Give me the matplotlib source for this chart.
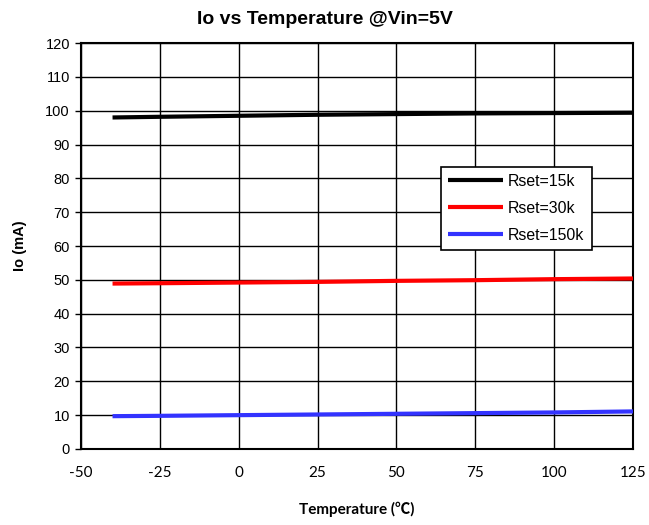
import matplotlib
matplotlib.use("Agg")
import matplotlib.pyplot as plt

temps = [-40, -25, 0, 25, 50, 75, 100, 125]
io_15k = [98.0, 98.2, 98.5, 98.8, 99.0, 99.2, 99.3, 99.4]
io_30k = [48.9, 49.0, 49.2, 49.4, 49.7, 49.9, 50.2, 50.4]
io_150k = [9.7, 9.8, 10.0, 10.2, 10.4, 10.6, 10.8, 11.1]
labels = ["Rset=15k", "Rset=30k", "Rset=150k"]
colors = ["#000000", "#ff0000", "#3333ff"]
xticks = [-50, -25, 0, 25, 50, 75, 100, 125]
xticklabels = ["-50", "-25", "0", "25", "50", "75", "100", "125"]
yticks = list(range(0, 121, 10))

plt.rcParams["axes.unicode_minus"] = False
fig = plt.figure(figsize=(6.49, 5.25), dpi=100)
ax = fig.add_axes([0.1248, 0.1448, 0.8505, 0.7732])

for y, lab, c in zip([io_15k, io_30k, io_150k], labels, colors):
    ax.plot(temps, y, color=c, lw=3, label=lab, solid_capstyle="butt", zorder=3)

ax.set_xlim(-50, 125)
ax.set_ylim(0, 120)
ax.set_xticks(xticks)
ax.set_xticklabels(xticklabels)
ax.set_yticks(yticks)
ax.grid(True, color="black", lw=1)
for s in ax.spines.values():
    s.set_linewidth(1.5)
    s.set_color("black")
ax.tick_params(axis="x", length=0, pad=12)
ax.tick_params(axis="y", length=4, width=1, direction="out", pad=4)
for t in ax.get_xticklabels():
    t.set_fontfamily("Lato")
    t.set_fontsize(11)
for t in ax.get_yticklabels():
    t.set_fontfamily("Liberation Sans")
    t.set_fontsize(10.5)

ax.set_xlabel("Temperature (℃)", fontfamily=["Lato", "Noto Sans CJK SC"], fontweight="bold", fontsize=11, labelpad=16)
ax.set_ylabel("Io (mA)", fontfamily="Liberation Sans", fontweight="bold", fontsize=10.5, labelpad=13)
fig.text(0.5, 1 - 19 / 525, "Io vs Temperature @Vin=5V", fontfamily="Liberation Sans",
         fontweight="bold", fontsize=14, ha="center", va="center")

leg = ax.legend(loc="upper left", bbox_to_anchor=(0.652, 0.695), frameon=True, fancybox=False,
                edgecolor="black", framealpha=1, prop={"family": "Liberation Sans", "size": 11.4},
                handlelength=3.5, handletextpad=0.3, borderpad=0.45, labelspacing=0.75, borderaxespad=0)
leg.get_frame().set_linewidth(1.2)
leg.set_zorder(5)

fig.savefig("out.png", dpi=100)
